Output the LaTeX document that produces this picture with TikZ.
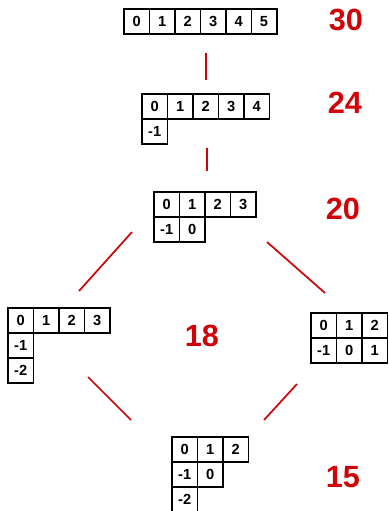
\documentclass[tikz,border=0pt]{standalone}
\usepackage{fontspec}
\setsansfont{Liberation Sans}
\usepackage{xcolor}
\usetikzlibrary{positioning}
\definecolor{tred}{RGB}{208,4,8}

\begin{document}
\begin{tikzpicture}[x=0.75pt, y=-0.75pt,
    cell/.style={draw, line width=1.2pt, outer sep=0pt, inner sep=0pt,
                 minimum width=19.1pt, minimum height=18.75pt,
                 font=\sffamily\bfseries\fontsize{11}{13}\selectfont},
    val/.style={text=tred, font=\sffamily\bfseries\fontsize{23}{27}\selectfont},
    lnk/.style={draw=tred, line width=1.3pt}
  ]
  \useasboundingbox (0,0) rectangle (389,511);

  % partition (6)
  \node[cell, anchor=north west] (a0) at (124,9) {0};
  \node[cell, right=0pt of a0] (a1) {1};
  \node[cell, right=0pt of a1] (a2) {2};
  \node[cell, right=0pt of a2] (a3) {3};
  \node[cell, right=0pt of a3] (a4) {4};
  \node[cell, right=0pt of a4] (a5) {5};
  \node[val] (n30) at (346,20) {30};

  % partition (5,1)
  \node[cell, anchor=north west] (b0) at (142,94) {0};
  \node[cell, right=0pt of b0] (b1) {1};
  \node[cell, right=0pt of b1] (b2) {2};
  \node[cell, right=0pt of b2] (b3) {3};
  \node[cell, right=0pt of b3] (b4) {4};
  \node[cell, below=0pt of b0] (b5) {-1};
  \node[val] (n24) at (345,103) {24};

  % partition (4,2)
  \node[cell, anchor=north west] (c0) at (154,192) {0};
  \node[cell, right=0pt of c0] (c1) {1};
  \node[cell, right=0pt of c1] (c2) {2};
  \node[cell, right=0pt of c2] (c3) {3};
  \node[cell, below=0pt of c0] (c4) {-1};
  \node[cell, right=0pt of c4] (c5) {0};
  \node[val] (n20) at (343,209) {20};

  % partition (4,1,1)
  \node[cell, anchor=north west] (d0) at (8,308) {0};
  \node[cell, right=0pt of d0] (d1) {1};
  \node[cell, right=0pt of d1] (d2) {2};
  \node[cell, right=0pt of d2] (d3) {3};
  \node[cell, below=0pt of d0] (d4) {-1};
  \node[cell, below=0pt of d4] (d5) {-2};
  \node[val] (n18) at (202,336) {18};

  % partition (3,3)
  \node[cell, anchor=north west] (e0) at (311,313) {0};
  \node[cell, right=0pt of e0] (e1) {1};
  \node[cell, right=0pt of e1] (e2) {2};
  \node[cell, below=0pt of e0] (e3) {-1};
  \node[cell, right=0pt of e3] (e4) {0};
  \node[cell, right=0pt of e4] (e5) {1};

  % partition (3,2,1)
  \node[cell, anchor=north west] (f0) at (172,437) {0};
  \node[cell, right=0pt of f0] (f1) {1};
  \node[cell, right=0pt of f1] (f2) {2};
  \node[cell, below=0pt of f0] (f3) {-1};
  \node[cell, right=0pt of f3] (f4) {0};
  \node[cell, below=0pt of f3] (f5) {-2};
  \node[val] (n15) at (343,477) {15};

  % links
  \coordinate (ab1) at (206,53);  \coordinate (ab2) at (206,80);
  \coordinate (bc1) at (207,148); \coordinate (bc2) at (207,171);
  \coordinate (cd1) at (132,232); \coordinate (cd2) at (79,291);
  \coordinate (ce1) at (267,242); \coordinate (ce2) at (325,293);
  \coordinate (df1) at (88,377);  \coordinate (df2) at (131,420);
  \coordinate (ef1) at (297,384); \coordinate (ef2) at (264,420);
  \draw[lnk] (ab1) -- (ab2);
  \draw[lnk] (bc1) -- (bc2);
  \draw[lnk] (cd1) -- (cd2);
  \draw[lnk] (ce1) -- (ce2);
  \draw[lnk] (df1) -- (df2);
  \draw[lnk] (ef1) -- (ef2);
\end{tikzpicture}
\end{document}
